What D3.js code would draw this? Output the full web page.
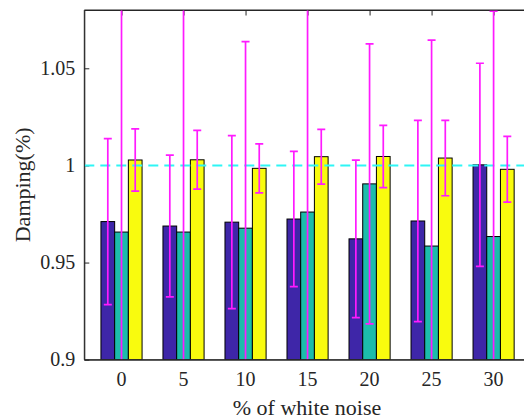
<!DOCTYPE html>
<html>
<head>
<meta charset="utf-8">
<script src="https://cdn.jsdelivr.net/npm/d3@7.9.0/dist/d3.min.js"></script>
<style>
  html, body { margin: 0; padding: 0; background: #fff; }
  svg { display: block; font-family: "Liberation Serif", "Times New Roman", serif; }
  .axis path, .axis line { stroke: #262626; }
  text.lbl { fill: #262626; font-family: "Liberation Serif", "Times New Roman", serif; }
</style>
</head>
<body>
<div id="chart"></div>
<script>
// % of white noise (group positions)
const noise = [0, 5, 10, 15, 20, 25, 30];
const seriesNames = ['s1', 's2', 's3'];

// mean damping ratio per series
const damp1 = [0.9711, 0.9688, 0.9708, 0.9724, 0.9622, 0.9714, 1.0003];
const damp2 = [0.9657, 0.9657, 0.9677, 0.9760, 0.9905, 0.9585, 0.9634];
const damp3 = [1.0028, 1.0029, 0.9985, 1.0045, 1.0046, 1.0038, 0.9980];

// half-length of error bars
const err1 = [0.0427, 0.0365, 0.0445, 0.0348, 0.0405, 0.0518, 0.0523];
const err2 = [0.1300, 0.1300, 0.0960, 0.1300, 0.0721, 0.1060, 0.1160];
const err3 = [0.0160, 0.0151, 0.0126, 0.0141, 0.0160, 0.0194, 0.0169];

const yTicks = [0.9, 0.95, 1, 1.05];
const refValue = 1;

const colors = ['#3e26a8', '#1cbcab', '#f9fb0e'];

const width = 524, height = 420;
const plot = { left: 84.3, right: 530.8, top: 10, bottom: 359.7 };

const rows = [];
[damp1, damp2, damp3].forEach((vals, s) => {
  const errs = [err1, err2, err3][s];
  vals.forEach((v, i) => rows.push({ series: seriesNames[s], s, x: noise[i], v, e: errs[i] }));
});

const svg = d3.select('#chart')
  .append('svg')
  .attr('width', width)
  .attr('height', height);

svg.append('rect').attr('width', width).attr('height', height).attr('fill', '#fff');

const xScale = d3.scaleLinear()
  .domain([-3, 33])
  .range([plot.left, plot.right]);

const yScale = d3.scaleLinear()
  .domain([0.9, 1.08])
  .range([plot.bottom, plot.top]);

const barW = xScale(1.105) - xScale(0);
const sub = d3.scaleBand()
  .domain(seriesNames)
  .range([-1.5 * barW, 1.5 * barW])
  .padding(0);

svg.append('defs').append('clipPath').attr('id', 'clip')
  .append('rect')
  .attr('x', plot.left).attr('y', plot.top)
  .attr('width', plot.right - plot.left)
  .attr('height', plot.bottom - plot.top);

// axes (tick marks under the data, like MATLAB)
svg.append('g')
  .attr('class', 'axis')
  .attr('transform', `translate(0,${plot.bottom})`)
  .call(d3.axisBottom(xScale).tickValues(noise).tickSize(-5).tickSizeOuter(0).tickFormat(''));

svg.append('g')
  .attr('class', 'axis')
  .attr('transform', `translate(0,${plot.top})`)
  .call(d3.axisTop(xScale).tickValues(noise).tickSize(-5.5).tickSizeOuter(0).tickFormat(''));

svg.append('g')
  .attr('class', 'axis')
  .attr('transform', `translate(${plot.left},0)`)
  .call(d3.axisLeft(yScale).tickValues(yTicks).tickSize(-5).tickSizeOuter(0).tickFormat(''));

svg.append('g')
  .attr('class', 'axis')
  .attr('transform', `translate(${plot.right},0)`)
  .call(d3.axisRight(yScale).tickValues(yTicks).tickSize(-5).tickSizeOuter(0).tickFormat(''));

// tick labels
svg.append('g')
  .selectAll('text')
  .data(noise)
  .join('text')
    .attr('class', 'lbl')
    .attr('x', d => xScale(d))
    .attr('y', plot.bottom + 26)
    .attr('text-anchor', 'middle')
    .style('font-size', '20px')
    .text(d => d);

svg.append('g')
  .selectAll('text')
  .data(yTicks)
  .join('text')
    .attr('class', 'lbl')
    .attr('x', plot.left - 9)
    .attr('y', d => yScale(d))
    .attr('dy', '0.33em')
    .attr('text-anchor', 'end')
    .style('font-size', '20px')
    .text(d => String(d));

const data = svg.append('g').attr('clip-path', 'url(#clip)');

data.append('g')
  .selectAll('rect')
  .data(rows)
  .join('rect')
    .attr('x', d => xScale(d.x) + sub(d.series))
    .attr('width', sub.bandwidth())
    .attr('y', d => yScale(d.v))
    .attr('height', d => yScale(0.9) - yScale(d.v))
    .attr('fill', d => colors[d.s])
    .attr('stroke', '#000')
    .attr('stroke-width', 1);

// reference line at 1
data.append('line')
  .attr('x1', plot.left).attr('x2', plot.right)
  .attr('y1', yScale(refValue)).attr('y2', yScale(refValue))
  .attr('stroke', '#2ef5f5')
  .attr('stroke-width', 2)
  .attr('stroke-dasharray', '10,6');

// error bars
const eb = data.append('g')
  .attr('stroke', '#ff1aff')
  .attr('stroke-width', 1.7)
  .selectAll('g')
  .data(rows)
  .join('g')
    .attr('transform', d => `translate(${xScale(d.x) + sub(d.series) + sub.bandwidth() / 2},0)`);

eb.append('line')
  .attr('y1', d => yScale(d.v - d.e))
  .attr('y2', d => yScale(d.v + d.e));
eb.append('line')
  .attr('x1', -4).attr('x2', 4)
  .attr('y1', d => yScale(d.v + d.e)).attr('y2', d => yScale(d.v + d.e));
eb.append('line')
  .attr('x1', -4).attr('x2', 4)
  .attr('y1', d => yScale(d.v - d.e)).attr('y2', d => yScale(d.v - d.e));

// box: top, bottom and left edges over the data
svg.append('line')
  .attr('x1', plot.left).attr('x2', plot.right)
  .attr('y1', plot.top).attr('y2', plot.top)
  .attr('stroke', '#262626');
svg.append('line')
  .attr('x1', plot.left).attr('x2', plot.right)
  .attr('y1', plot.bottom).attr('y2', plot.bottom)
  .attr('stroke', '#262626');
svg.append('line')
  .attr('x1', plot.left).attr('x2', plot.left)
  .attr('y1', plot.top).attr('y2', plot.bottom)
  .attr('stroke', '#262626');

// axis labels
svg.append('text')
  .attr('class', 'lbl')
  .attr('x', 307)
  .attr('y', 415)
  .attr('text-anchor', 'middle')
  .style('font-size', '22px')
  .text('% of white noise');

svg.append('text')
  .attr('class', 'lbl')
  .attr('transform', `translate(30,${(plot.top + plot.bottom) / 2}) rotate(-90)`)
  .attr('text-anchor', 'middle')
  .style('font-size', '22px')
  .text('Damping(%)');
</script>
</body>
</html>
